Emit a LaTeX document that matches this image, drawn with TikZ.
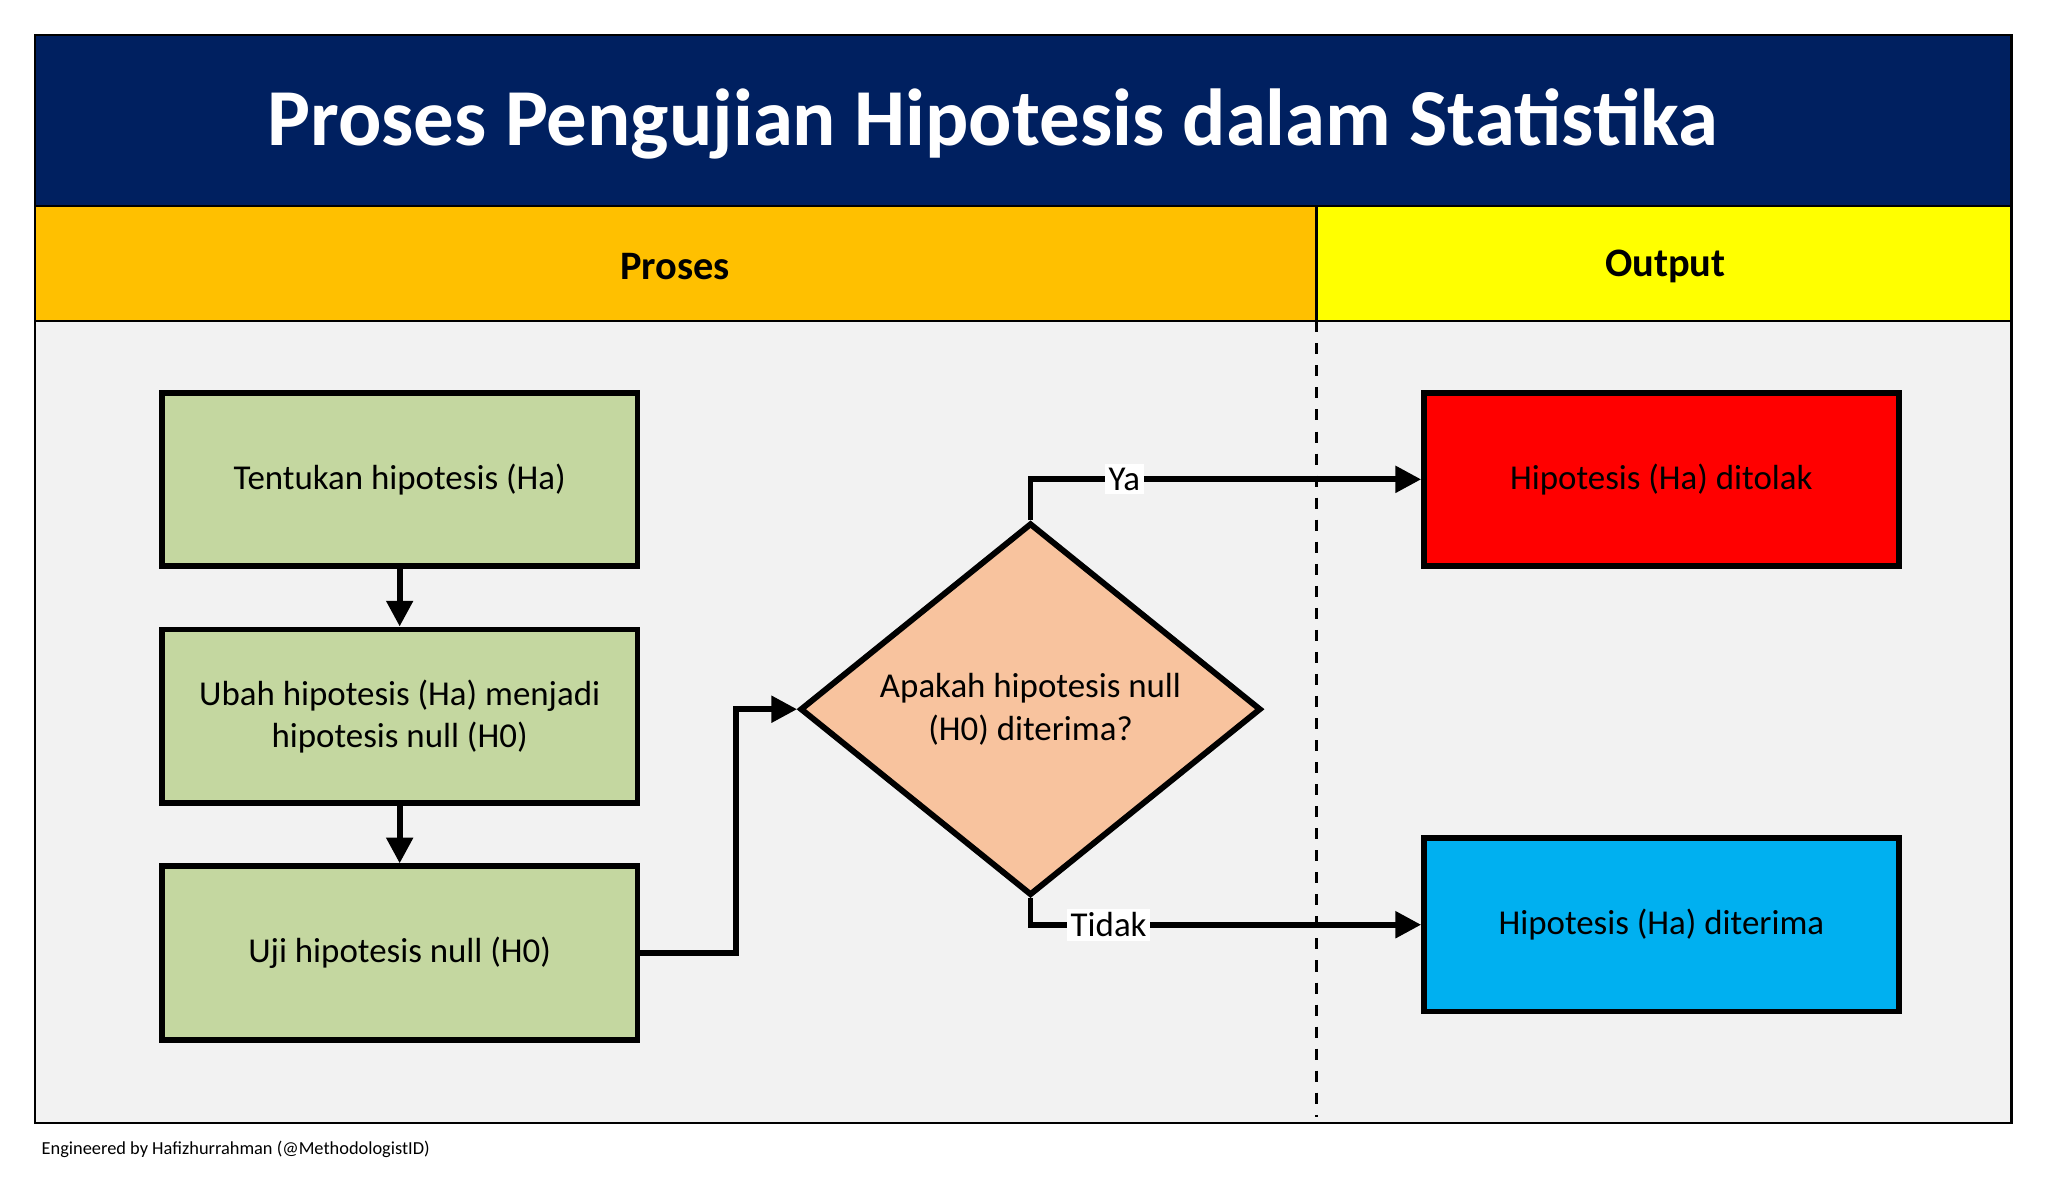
\documentclass[tikz,border=0pt]{standalone}
\usepackage{fontspec}
\setmainfont{Carlito}
\usetikzlibrary{positioning,shapes.geometric,arrows.meta}
\definecolor{navy}{RGB}{0,32,96}
\definecolor{proses}{RGB}{255,192,0}
\definecolor{output}{RGB}{255,255,0}
\definecolor{bodyfill}{RGB}{242,242,242}
\definecolor{stepgreen}{RGB}{196,215,160}
\definecolor{peach}{RGB}{248,195,158}
\definecolor{skyblue}{RGB}{0,176,240}
\tikzset{step node/.style={rectangle,draw,line width=1.6pt,fill=stepgreen,minimum width=4.55cm,minimum height=1.66cm,align=center,font=\fontsize{9.5}{11.5}\selectfont,inner sep=2pt},
         result node/.style={step node,minimum width=4.54cm},
         flow/.style={line width=1.6pt,-{Triangle[length=7pt,width=7pt]}},
         }
\begin{document}
\begin{tikzpicture}[x=0.0125cm,y=-0.0125cm]
    \useasboundingbox (0,0) rectangle (1568,910);

    % frame and bands
    \fill[bodyfill] (27,246) rectangle (1540,860);
    \fill[navy] (27,27) rectangle (1540,158);
    \fill[proses] (27,158) rectangle (1008,246);
    \fill[output] (1008,158) rectangle (1540,246);
    \draw[line width=0.6pt] (27,27) rectangle (1540,860);
    \draw[line width=0.6pt] (27,158) -- (1540,158) (27,246) -- (1540,246) (1008,158) -- (1008,246);
    \draw[dashed,line width=0.6pt] (1008,246) -- (1008,855);

    \node[text=white,font=\fontsize{22}{26}\selectfont\bfseries] (title) at (760,95) {Proses Pengujian Hipotesis dalam Statistika};
    \node[font=\fontsize{11}{13}\selectfont\bfseries] (hproses) at (517,204) {Proses};
    \node[font=\fontsize{11}{13}\selectfont\bfseries] (houtput) at (1275,204) {Output};

    % process steps
    \node[step node] (1) at (306,367) {Tentukan hipotesis (Ha)};
    \node[step node] (2) [below = 0.55cm of 1] {Ubah hipotesis (Ha) menjadi\\hipotesis null (H0)};
    \node[step node] (3) [below = 0.55cm of 2] {Uji hipotesis null (H0)};
    \node[diamond,draw,line width=1.6pt,fill=peach,minimum width=4.41cm,minimum height=3.29cm,
          inner sep=0pt,align=center,font=\fontsize{9.5}{11.5}\selectfont] (4) at (789,543)
          {Apakah hipotesis null\\(H0) diterima?};

    % outputs
    \node[result node,fill=red] (5) at (1272,367) {Hipotesis (Ha) ditolak};
    \node[result node,fill=skyblue] (6) at (1272,708) {Hipotesis (Ha) diterima};

    \draw[flow] (1) -- (2);
    \draw[flow] (2) -- (3);
    \draw[flow] (3.east) -- ++(73,0) |- (4.west);
    \draw[flow] (4.north) |- (5.west) node[pos=0.62,fill=white,inner sep=1pt,font=\fontsize{9.5}{11.5}\selectfont] {Ya};
    \draw[flow] (4.south) |- (6.west) node[pos=0.6,fill=white,inner sep=1pt,font=\fontsize{9.5}{11.5}\selectfont] {Tidak};

    \node[anchor=west,font=\fontsize{5}{6}\selectfont] (credit) at (22,880) {Engineered by Hafizhurrahman (@MethodologistID)};
\end{tikzpicture}
\end{document}
